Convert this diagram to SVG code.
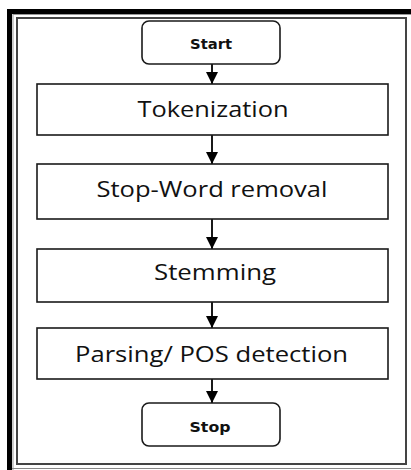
<svg xmlns="http://www.w3.org/2000/svg" width="411" height="470" viewBox="0 0 411 470">
<style>
.box{fill:#fff;stroke:#1a1a1a;stroke-width:1.6}
.big{font-family:"Open Sans","DejaVu Sans",sans-serif;font-size:21px;fill:#111;text-anchor:middle}
.small{font-family:"DejaVu Sans",sans-serif;font-size:14px;font-weight:bold;fill:#111;text-anchor:middle}
.conn{stroke:#000;stroke-width:1.8;fill:none}
</style>
<defs>
<marker id="ah" markerWidth="12" markerHeight="12" refX="12" refY="6" orient="auto" markerUnits="userSpaceOnUse">
<path d="M0,0 L12,6 L0,12 Z" fill="#000"/>
</marker>
</defs>
<rect width="411" height="470" fill="#fff"/>
<g id="frame">
<rect x="7" y="9" width="404" height="5" fill="#000"/>
<rect x="7" y="9" width="5" height="461" fill="#000"/>
<line x1="13" y1="14.5" x2="411" y2="14.5" stroke="#999" stroke-width="1"/>
<line x1="13" y1="14" x2="13" y2="470" stroke="#999" stroke-width="1"/>
<rect x="17" y="18" width="389" height="446" fill="none" stroke="#444" stroke-width="2"/>
<line x1="12" y1="468.5" x2="411" y2="468.5" stroke="#888" stroke-width="1"/>
</g>
<g id="connectors">
<line class="conn" x1="212" y1="64" x2="212" y2="84" marker-end="url(#ah)"/>
<line class="conn" x1="212" y1="135" x2="212" y2="164" marker-end="url(#ah)"/>
<line class="conn" x1="212" y1="219" x2="212" y2="249" marker-end="url(#ah)"/>
<line class="conn" x1="212" y1="302" x2="212" y2="328" marker-end="url(#ah)"/>
<line class="conn" x1="212" y1="379" x2="212" y2="403" marker-end="url(#ah)"/>
</g>
<g id="start">
<rect class="box" x="142" y="21" width="138" height="43" rx="7"/>
<text class="small" x="211" y="49" textLength="42" lengthAdjust="spacingAndGlyphs">Start</text>
</g>
<g id="tokenization">
<rect class="box" x="37" y="84" width="351" height="51"/>
<text class="big" x="213" y="117" textLength="151" lengthAdjust="spacingAndGlyphs">Tokenization</text>
</g>
<g id="stopword">
<rect class="box" x="37" y="164" width="351" height="55"/>
<text class="big" x="212" y="197" textLength="231" lengthAdjust="spacingAndGlyphs">Stop-Word removal</text>
</g>
<g id="stemming">
<rect class="box" x="37" y="249" width="351" height="53"/>
<text class="big" x="215" y="280" textLength="122" lengthAdjust="spacingAndGlyphs">Stemming</text>
</g>
<g id="parsing">
<rect class="box" x="37" y="328" width="351" height="51"/>
<text class="big" x="211.5" y="362" textLength="273" lengthAdjust="spacingAndGlyphs">Parsing/ POS detection</text>
</g>
<g id="stop">
<rect class="box" x="142" y="403" width="138" height="43" rx="7"/>
<text class="small" x="210" y="432" textLength="41" lengthAdjust="spacingAndGlyphs">Stop</text>
</g>
</svg>
